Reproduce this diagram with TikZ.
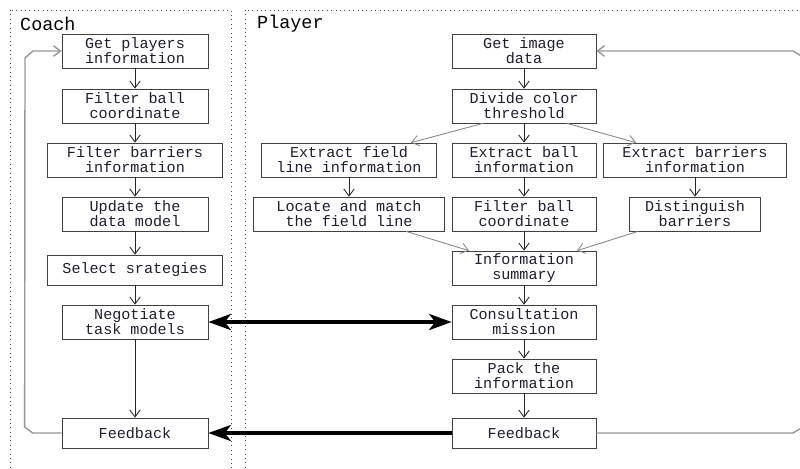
\documentclass[tikz,border=0pt]{standalone}
\usepackage{fontspec}
\newfontfamily\boxfont{Liberation Mono}
\usepackage{xcolor}
\definecolor{framegray}{RGB}{70, 70, 70}
\definecolor{loopgray}{RGB}{150, 150, 150}
\definecolor{boxtext}{RGB}{30, 30, 50}
\usepackage{tikz}
\usetikzlibrary{arrows.meta, positioning, calc}

\begin{document}
\begin{tikzpicture}[x=0.02cm, y=-0.02cm,
      procbox/.style={rectangle, draw=black!75, fill=white, text=boxtext, font=\boxfont\fontsize{8.6}{8.6}\selectfont, minimum height=0.68cm, minimum width=2.92cm, inner sep=1pt, align=center},
      lanelabel/.style={font=\boxfont\fontsize{10.5}{12}\selectfont, anchor=west},
      lane/.style={draw=framegray, dotted, line width=0.5pt},
      arr/.style={-{Straight Barb[length=4pt, width=6pt]}, black!85, line width=0.5pt},
      sidearr/.style={-{Straight Barb[length=4pt, width=6pt]}, loopgray!90!black, line width=0.5pt},
      looparr/.style={-{Straight Barb[length=4pt, width=6pt]}, loopgray, line width=0.8pt},
      bigarr/.style={-{Stealth[length=0.45cm, width=0.32cm, inset=0.12cm]}, black, line width=2.2pt}
  ]
    \useasboundingbox (0,0) rectangle (800,468);
    \clip (0,0) rectangle (800,468);

    % Lanes
    \draw[lane] (10,10) rectangle (231,480);
    \draw[lane] (245,10) rectangle (820,480);
    \node[lanelabel] (coachlbl) at (14,24) {Coach};
    \node[lanelabel] (playerlbl) at (251,24) {Player};

    % Coach column
    \node[procbox] (cget) at (135,51) {Get players\\information};
    \node[procbox] (cball) at (135,106) {Filter ball\\coordinate};
    \node[procbox, minimum width=3.5cm] (cbar) at (135,160) {Filter barriers\\information};
    \node[procbox] (cupd) at (135,214) {Update the\\data model};
    \node[procbox, minimum width=3.5cm, minimum height=0.6cm] (csel) at (135,270) {Select srategies};
    \node[procbox] (cneg) at (135,322) {Negotiate\\task models};
    \node[procbox, minimum height=0.6cm] (cfb) at (135,433) {Feedback};

    % Player column
    \node[procbox, minimum width=2.88cm] (pget) at (524,51) {Get image\\data};
    \node[procbox, minimum width=2.88cm] (pdiv) at (524,106) {Divide color\\threshold};
    \node[procbox, minimum width=3.5cm] (pefl) at (349,160) {Extract field\\line information};
    \node[procbox, minimum width=2.88cm] (peball) at (524,160) {Extract ball\\information};
    \node[procbox, minimum width=3.66cm] (pebar) at (695,160) {Extract barriers\\information};
    \node[procbox, minimum width=3.82cm] (ploc) at (349,214) {Locate and match\\the field line};
    \node[procbox, minimum width=2.88cm] (pball) at (524,214) {Filter ball\\coordinate};
    \node[procbox, minimum width=2.62cm] (pdist) at (695,214) {Distinguish\\barriers};
    \node[procbox, minimum width=2.88cm] (pinfo) at (524,268) {Information\\summary};
    \node[procbox, minimum width=2.88cm] (pcons) at (524,322) {Consultation\\mission};
    \node[procbox, minimum width=2.88cm] (ppack) at (524,376) {Pack the\\information};
    \node[procbox, minimum width=2.88cm, minimum height=0.6cm] (pfb) at (524,433) {Feedback};

    % Connections
    \draw[arr] (cget) -- (cball); \draw[arr] (cball) -- (cbar); \draw[arr] (cbar) -- (cupd);
    \draw[arr] (cupd) -- (csel); \draw[arr] (csel) -- (cneg); \draw[arr] (cneg) -- (cfb);
    \draw[arr] (pget) -- (pdiv); \draw[arr] (pdiv) -- (peball); \draw[arr] (peball) -- (pball);
    \draw[arr] (pball) -- (pinfo); \draw[arr] (pinfo) -- (pcons); \draw[arr] (pcons) -- (ppack);
    \draw[arr] (ppack) -- (pfb);
    \draw[arr] (pefl) -- (ploc); \draw[arr] (pebar) -- (pdist);
    \draw[sidearr] ($(pdiv.south)+(-41,0)$) -- ($(pefl.north)+(62,0)$);
    \draw[sidearr] ($(pdiv.south)+(43,0)$) -- ($(pebar.north)+(-59,0)$);
    \draw[sidearr] ($(ploc.south)+(57,0)$) -- ($(pinfo.north)+(-55,0)$);
    \draw[sidearr] ($(pdist.south)+(-57,0)$) -- ($(pinfo.north)+(53,0)$);

    % Loops
    \draw[looparr] (cfb.west) -- ++(-29,0) -- ++(-8,-6) -- (25,58) -- (33,51) -- (cget.west);
    \draw[looparr] (pfb.east) -- (793,433) -- (803,427) -- (803,57) -- (793,51) -- (pget.east);

    % Coach <-> Player
    \draw[bigarr, {Stealth[length=0.45cm, width=0.32cm, inset=0.12cm]}-{Stealth[length=0.45cm, width=0.32cm, inset=0.12cm]}] (cneg.east) -- (pcons.west);
    \draw[bigarr] (pfb.west) -- (cfb.east);
  \end{tikzpicture}
\end{document}
